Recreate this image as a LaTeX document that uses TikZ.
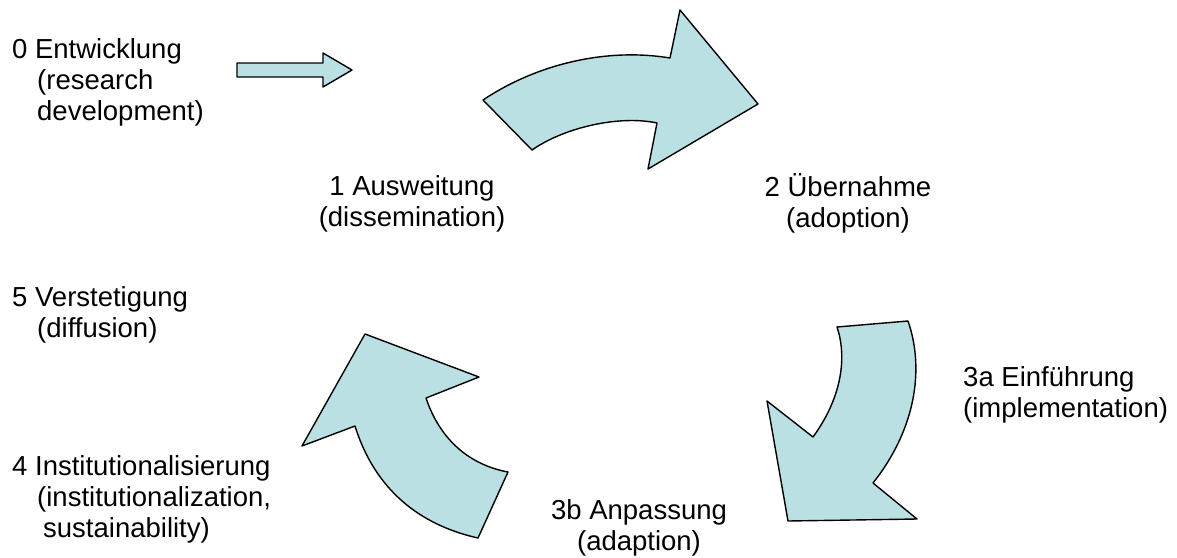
\documentclass[tikz,border=0pt]{standalone}
\usepackage{fontspec}
\setmainfont{Liberation Sans}
\usetikzlibrary{positioning}
\definecolor{pale}{RGB}{187,224,227}

\begin{document}
\begin{tikzpicture}[x=1pt,y=-1pt,
  blk/.style={fill=pale, draw=black, line width=1.4pt, line join=round},
  txt/.style={inner sep=0pt, font=\fontsize{27.5}{31}\selectfont}]
\useasboundingbox (0,0) rectangle (1177,557);

% labels (anchored at the baseline of the last line)
\node[txt, align=left, anchor=base west] (dev) at (12,120) {0 Entwicklung\\\hspace*{25pt}(research\\\hspace*{25pt}development)};
\node[txt, align=center, anchor=base] (dis) at (412,226) {1 Ausweitung\\(dissemination)};
\node[txt, align=center, anchor=base] (ado) at (848,227) {2 Übernahme\\(adoption)};
\node[txt, align=left, anchor=base west] (dif) at (12,337) {5 Verstetigung\\\hspace*{25pt}(diffusion)};
\node[txt, align=left, anchor=base west] (imp) at (963,417) {3a Einführung\\(implementation)};
\node[txt, align=left, anchor=base west] (ins) at (12,537) {4 Institutionalisierung\\\hspace*{25pt}(institutionalization,\\\hspace*{31pt}sustainability)};
\node[txt, align=center, anchor=base] (adp) at (639,550) {3b Anpassung\\(adaption)};

% arrows
\draw[blk] (237,63) -- (323,63) -- (323,53) -- (352,70) -- (323,87) -- (323,77) -- (237,77) -- cycle;
\draw[blk] (483,100) .. controls (540,62) and (610,48) .. (670,58) -- (680,10) -- (758,104) -- (648,169)
  -- (657,123) .. controls (620,115) and (565,127) .. (532,150) -- cycle;
\draw[blk] (837,327) -- (908,321) .. controls (925,370) and (915,430) .. (873,483) -- (917,519) -- (788,521)
  -- (767,401) -- (813,437) .. controls (840,400) and (848,360) .. (837,327) -- cycle;
\draw[blk] (478,538) .. controls (420,525) and (375,490) .. (355,426) -- (302,446) -- (365,334) -- (479,377)
  -- (426,398) .. controls (440,440) and (470,465) .. (508,472) -- cycle;
\end{tikzpicture}
\end{document}
